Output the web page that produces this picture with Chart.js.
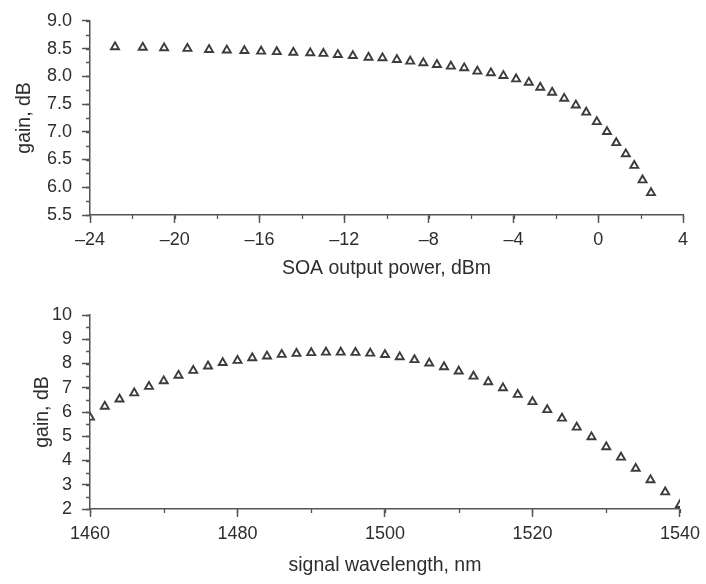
<!DOCTYPE html>
<html>
<head>
<meta charset="utf-8">
<script src="https://cdn.jsdelivr.net/npm/chart.js@4.4.1/dist/chart.umd.min.js"></script>
<style>
  body { margin: 0; background: #fff; }
  #wrap { position: relative; width: 706px; height: 584px; }
  canvas { position: absolute; left: 0; }
  #powerChart { top: 0; }
  #wavelengthChart { top: 290px; }
</style>
</head>
<body>
<div id="wrap">
  <canvas id="powerChart" width="706" height="290"></canvas>
  <canvas id="wavelengthChart" width="706" height="294"></canvas>
</div>
<script>
// top panel: gain vs SOA output power
const outputPower = [-22.82, -21.51, -20.50, -19.40, -18.38, -17.54, -16.71, -15.92, -15.18, -14.40,
  -13.60, -12.98, -12.30, -11.59, -10.85, -10.19, -9.51, -8.88, -8.26, -7.62,
  -6.96, -6.33, -5.71, -5.07, -4.48, -3.88, -3.28, -2.74, -2.18, -1.61,
  -1.06, -0.57, -0.07, 0.41, 0.85, 1.30, 1.70, 2.09, 2.49];
const gainVsPower = [8.53, 8.52, 8.51, 8.50, 8.48, 8.47, 8.46, 8.45, 8.44, 8.43,
  8.42, 8.41, 8.39, 8.37, 8.34, 8.33, 8.30, 8.27, 8.24, 8.21,
  8.18, 8.15, 8.09, 8.06, 8.01, 7.95, 7.89, 7.80, 7.71, 7.60,
  7.48, 7.35, 7.18, 7.00, 6.80, 6.60, 6.39, 6.13, 5.90];

// bottom panel: gain vs signal wavelength
const wavelength = [1460, 1462, 1464, 1466, 1468, 1470, 1472, 1474, 1476, 1478,
  1480, 1482, 1484, 1486, 1488, 1490, 1492, 1494, 1496, 1498,
  1500, 1502, 1504, 1506, 1508, 1510, 1512, 1514, 1516, 1518,
  1520, 1522, 1524, 1526, 1528, 1530, 1532, 1534, 1536, 1538, 1540];
const gainVsWavelength = [5.78, 6.23, 6.53, 6.78, 7.05, 7.28, 7.51, 7.71, 7.89, 8.03,
  8.12, 8.23, 8.30, 8.37, 8.41, 8.44, 8.46, 8.46, 8.45, 8.42,
  8.36, 8.27, 8.15, 8.01, 7.86, 7.68, 7.47, 7.24, 6.99, 6.72,
  6.42, 6.09, 5.74, 5.37, 4.97, 4.56, 4.13, 3.67, 3.20, 2.70, 2.18];

const powerTicks = [-24, -20, -16, -12, -8, -4, 0, 4];
const wavelengthTicks = [1460, 1480, 1500, 1520, 1540];

const axisColor = "#555";
const textColor = "#2e2e2e";
const fontFamily = "'Liberation Sans', Arial, sans-serif";

Chart.defaults.font.family = fontFamily;
Chart.defaults.color = textColor;

// short outward ticks between the labelled ones
const minorTicks = {
  id: "minorTicks",
  afterDraw(chart, args, opts) {
    const ctx = chart.ctx;
    const xs = chart.scales.x;
    const ys = chart.scales.y;
    ctx.save();
    ctx.strokeStyle = axisColor;
    ctx.lineWidth = 1.3;
    ctx.beginPath();
    for (let v = xs.min; v <= xs.max + 1e-9; v += opts.x) {
      const px = Math.round(xs.getPixelForValue(v)) + 0.5;
      ctx.moveTo(px, ys.bottom);
      ctx.lineTo(px, ys.bottom + 4);
    }
    for (let v = ys.min; v <= ys.max + 1e-9; v += opts.y) {
      const py = Math.round(ys.getPixelForValue(v)) + 0.5;
      ctx.moveTo(xs.left - 4, py);
      ctx.lineTo(xs.left, py);
    }
    ctx.stroke();
    ctx.restore();
  }
};

function makeScales(xMin, xMax, xStep, xLabel, xTitlePad, yMin, yMax, yStep, yDigits, yWidth, yTitlePad) {
  return {
    x: {
      type: "linear",
      min: xMin,
      max: xMax,
      afterFit: (scale) => { scale.height = 75; },
      afterBuildTicks: (scale) => {
        scale.ticks = (xStep).map((v) => ({ value: v }));
      },
      ticks: {
        autoSkip: false,
        maxRotation: 0,
        padding: 6,
        font: { size: 18 },
        callback: (v) => (v < 0 ? "\u2013" + Math.abs(v) : "" + v),
      },
      grid: { drawOnChartArea: false, drawTicks: true, tickLength: 8, color: axisColor, tickWidth: 1.5 },
      border: { color: axisColor, width: 1.5 },
      title: { display: true, text: xLabel, font: { size: 19.5 }, padding: { top: 0, bottom: xTitlePad } },
    },
    y: {
      type: "linear",
      min: yMin,
      max: yMax,
      afterFit: (scale) => { scale.width = yWidth; },
      ticks: {
        stepSize: yStep,
        autoSkip: false,
        padding: 10,
        font: { size: 18 },
        callback: (v) => v.toFixed(yDigits),
      },
      grid: { drawOnChartArea: false, drawTicks: true, tickLength: 8, color: axisColor, tickWidth: 1.5 },
      border: { color: axisColor, width: 1.5 },
      title: { display: true, text: "gain, dB", font: { size: 19.5 }, padding: { top: yTitlePad, bottom: 0 } },
    },
  };
}

function pointDataset(xs, ys) {
  return {
    data: xs.map((x, i) => ({ x: x, y: ys[i] })),
    pointStyle: "triangle",
    pointRadius: 4.6,
    pointBorderWidth: 1.9,
    pointBorderColor: "#3c3c3c",
    pointBackgroundColor: "#fff",
    showLine: false,
    clip: 0,
  };
}

new Chart(document.getElementById("powerChart"), {
  type: "scatter",
  data: { datasets: [pointDataset(outputPower, gainVsPower)] },
  options: {
    responsive: false,
    animation: false,
    layout: { padding: { left: 0, right: 23, top: 18, bottom: 0 } },
    scales: makeScales(-24, 4, powerTicks, "SOA output power, dBm", 10, 5.5, 9, 0.5, 1, 90, 13),
    plugins: {
      legend: { display: false },
      tooltip: { enabled: false },
      minorTicks: { x: 2, y: 0.25 },
    },
  },
  plugins: [minorTicks],
});

new Chart(document.getElementById("wavelengthChart"), {
  type: "scatter",
  data: { datasets: [pointDataset(wavelength, gainVsWavelength)] },
  options: {
    responsive: false,
    animation: false,
    layout: { padding: { left: 17, right: 25, top: 25, bottom: 0 } },
    scales: makeScales(1460, 1540, wavelengthTicks, "signal wavelength, nm", 7, 2, 10, 1, 0, 73, 14),
    plugins: {
      legend: { display: false },
      tooltip: { enabled: false },
      minorTicks: { x: 10, y: 0.5 },
    },
  },
  plugins: [minorTicks],
});
</script>
</body>
</html>
